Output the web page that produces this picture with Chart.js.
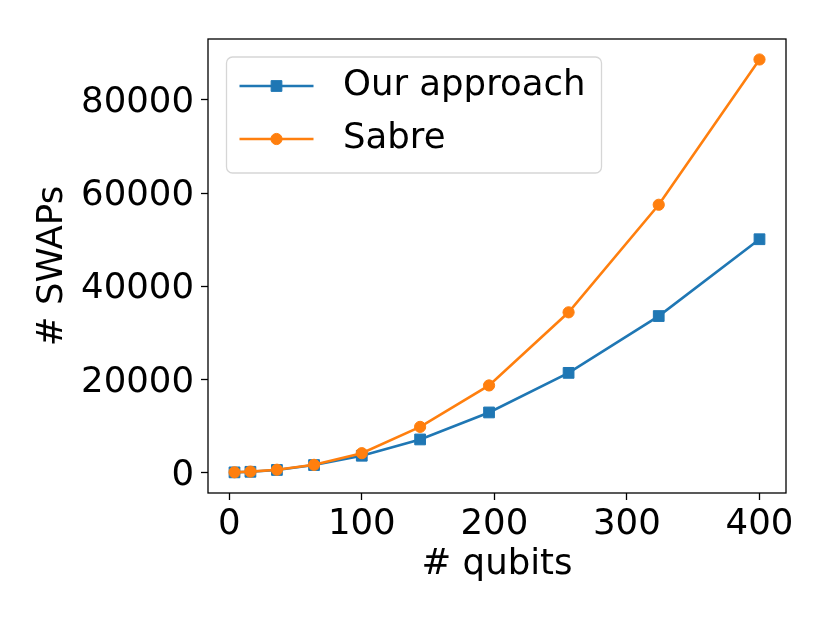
<!DOCTYPE html>
<html>
<head>
<meta charset="utf-8">
<script src="https://cdn.jsdelivr.net/npm/chart.js@4/dist/chart.umd.min.js"></script>
<style>
  html, body { margin: 0; padding: 0; background: #fff; }
  #wrap { width: 830px; height: 623px; }
</style>
</head>
<body>
<div id="wrap"><canvas id="chart" width="830" height="623"></canvas></div>
<script>
/* data */
const qubits = [4, 16, 36, 64, 100, 144, 196, 256, 324, 400];
const ourSwaps = [30, 150, 550, 1600, 3600, 7100, 12900, 21400, 33600, 50100];
const sabreSwaps = [50, 200, 600, 1650, 4150, 9800, 18700, 34400, 57500, 88700];
const seriesNames = ["Our approach", "Sabre"];
const xTicks = [0, 100, 200, 300, 400];
const yTicks = [0, 20000, 40000, 60000, 80000];

const BLUE = "#1f77b4";
const ORANGE = "#ff7f0e";
const FONT = "DejaVu Sans";
const SIZE = 35.5;

Chart.defaults.font.family = FONT;
Chart.defaults.color = "#000";

const toPoints = ys => qubits.map((x, i) => ({ x, y: ys[i] }));

/* frame around the plot area, like matplotlib's spines */
const frame = {
  id: "frame",
  afterDatasetsDraw(chart) {
    const { ctx, chartArea: a } = chart;
    ctx.save();
    ctx.strokeStyle = "#000";
    ctx.lineWidth = 1.3;
    ctx.strokeRect(a.left, a.top, a.right - a.left, a.bottom - a.top);
    ctx.restore();
  }
};

/* legend inside the axes, line + marker samples */
const innerLegend = {
  id: "innerLegend",
  afterDraw(chart) {
    const { ctx } = chart;
    const box = { x: 226.5, y: 57, w: 375, h: 116, r: 6 };
    ctx.save();
    ctx.beginPath();
    ctx.roundRect(box.x, box.y, box.w, box.h, box.r);
    ctx.fillStyle = "rgba(255,255,255,0.8)";
    ctx.fill();
    ctx.lineWidth = 1.3;
    ctx.strokeStyle = "#d6d6d6";
    ctx.stroke();

    chart.data.datasets.forEach((ds, i) => {
      const y = 86 + i * 53;
      ctx.beginPath();
      ctx.moveTo(239.5, y);
      ctx.lineTo(313.5, y);
      ctx.strokeStyle = ds.borderColor;
      ctx.lineWidth = ds.borderWidth;
      ctx.stroke();
      ctx.fillStyle = ds.borderColor;
      ctx.strokeStyle = ds.borderColor;
      ctx.lineWidth = 1;
      Chart.helpers.drawPoint(ctx, {
        pointStyle: ds.pointStyle,
        radius: ds.pointRadius,
        rotation: 0,
        borderWidth: 1
      }, 276.5, y);
      ctx.fillStyle = "#000";
      ctx.font = SIZE + "px '" + FONT + "'";
      ctx.textAlign = "left";
      ctx.textBaseline = "middle";
      ctx.fillText(ds.label, 343, y);
    });
    ctx.restore();
  }
};

new Chart(document.getElementById("chart"), {
  type: "line",
  data: {
    datasets: [
      {
        label: seriesNames[0],
        data: toPoints(ourSwaps),
        borderColor: BLUE,
        backgroundColor: BLUE,
        borderWidth: 2.6,
        pointStyle: "rect",
        pointRadius: 7.6,
        pointBorderWidth: 1,
        order: 2
      },
      {
        label: seriesNames[1],
        data: toPoints(sabreSwaps),
        borderColor: ORANGE,
        backgroundColor: ORANGE,
        borderWidth: 2.6,
        pointStyle: "circle",
        pointRadius: 5.6,
        pointBorderWidth: 1,
        order: 1
      }
    ]
  },
  options: {
    responsive: false,
    animation: false,
    layout: { padding: { top: 39, right: 44, left: 0, bottom: 0 } },
    plugins: {
      legend: { display: false },
      tooltip: { enabled: false }
    },
    scales: {
      x: {
        type: "linear",
        min: -16,
        max: 420,
        afterBuildTicks: s => { s.ticks = xTicks.map(v => ({ value: v })); },
        afterFit: s => { s.height = 130; },
        grid: { drawOnChartArea: false, tickLength: 7, tickWidth: 1.3, color: "#000" },
        border: { display: false },
        ticks: { font: { size: SIZE }, padding: 3, maxRotation: 0 },
        title: { display: true, text: "# qubits", font: { size: SIZE }, padding: { bottom: 37 } }
      },
      y: {
        type: "linear",
        min: -4400,
        max: 93100,
        afterBuildTicks: s => { s.ticks = yTicks.map(v => ({ value: v })); },
        afterFit: s => { s.width = 208; },
        grid: { drawOnChartArea: false, tickLength: 7, tickWidth: 1.3, color: "#000" },
        border: { display: false },
        ticks: { font: { size: SIZE }, padding: 7, labelOffset: 3, callback: v => String(v) },
        title: { display: true, text: "# SWAPs", font: { size: SIZE }, padding: { top: 31 } }
      }
    }
  },
  plugins: [frame, innerLegend]
});
</script>
</body>
</html>
